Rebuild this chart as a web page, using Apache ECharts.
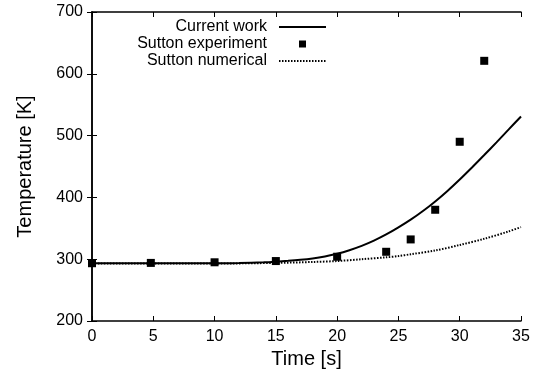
<!DOCTYPE html>
<html>
<head>
<meta charset="utf-8">
<script src="https://cdn.jsdelivr.net/npm/echarts@6/dist/echarts.min.js"></script>
<style>
  html, body { margin: 0; padding: 0; background: #fff; }
  #chart { width: 539px; height: 381px; }
</style>
</head>
<body>
<div id="chart"></div>
<script>
// Simulated temperature history (current work)
const workTime = [0, 5, 10, 12, 14, 15, 16, 17, 18, 19, 20, 21, 22, 23, 24, 25, 26, 27, 28, 29, 30, 31, 32, 33, 34, 35];
const workTemp = [293.5, 293.5, 293.5, 294, 295, 296, 297.3, 299, 301.3, 304.5, 308.8, 314.5, 321.5, 330, 340, 351.5, 364, 378, 393.5, 410.5, 429, 448.5, 468.5, 489, 510, 531];

// Sutton's measured temperatures
const expTime = [0, 4.8, 10, 15, 20, 24, 26, 28, 30, 32];
const expTemp = [293.5, 294, 295, 297, 304, 312, 332, 380, 490, 621];

// Sutton's numerical prediction
const numTime = [0, 5, 10, 15, 18, 20, 22, 24, 25, 26, 28, 30, 32, 34, 35];
const numTemp = [293, 293, 293, 294, 295.5, 297, 300, 303, 305, 308, 314, 323, 333, 345, 352];

const xTicks = { min: 0, max: 35, interval: 5 };
const yTicks = { min: 200, max: 700, interval: 100 };

const pairs = (xs, ys) => xs.map((x, i) => [x, ys[i]]);

const FONT = 'Liberation Sans, Arial, Helvetica, sans-serif';
const ink = '#000';

const chart = echarts.init(document.getElementById('chart'), null, { renderer: 'canvas' });

const baseAxis = {
  axisLine: { show: true, lineStyle: { color: ink, width: 1.5 } },
  axisTick: { show: true, inside: true, length: 5, lineStyle: { color: ink, width: 1 } },
  splitLine: { show: false }
};

chart.setOption({
  backgroundColor: '#fff',
  animation: false,
  grid: { left: 92, right: 18, top: 12, bottom: 60, containLabel: false },
  legend: {
    orient: 'vertical',
    align: 'right',
    right: 212,
    top: 19,
    padding: 0,
    itemGap: 1,
    itemWidth: 47,
    itemHeight: 7,
    symbolKeepAspect: true,
    textStyle: { fontFamily: FONT, fontSize: 16, color: ink, lineHeight: 16, padding: [0, 7, 0, 0] },
    data: [
      { name: 'Current work', itemStyle: { opacity: 0 } },
      { name: 'Sutton experiment', icon: 'path://M0,0L1,0L1,1L0,1Z', itemStyle: { color: ink, opacity: 1 } },
      { name: 'Sutton numerical', itemStyle: { opacity: 0 } }
    ]
  },
  xAxis: [
    Object.assign({}, baseAxis, {
      type: 'value', position: 'bottom',
      min: xTicks.min, max: xTicks.max, interval: xTicks.interval,
      name: 'Time [s]', nameLocation: 'middle', nameGap: 27,
      nameTextStyle: { fontFamily: FONT, fontSize: 20, color: ink },
      axisLabel: { fontFamily: FONT, fontSize: 16, color: ink, margin: 8 }
    }),
    Object.assign({}, baseAxis, {
      type: 'value', position: 'top',
      min: xTicks.min, max: xTicks.max, interval: xTicks.interval,
      axisLabel: { show: false }
    })
  ],
  yAxis: [
    Object.assign({}, baseAxis, {
      type: 'value', position: 'left',
      min: yTicks.min, max: yTicks.max, interval: yTicks.interval,
      name: 'Temperature [K]', nameLocation: 'middle', nameGap: 57,
      nameTextStyle: { fontFamily: FONT, fontSize: 20, color: ink },
      axisLabel: { fontFamily: FONT, fontSize: 16, color: ink, margin: 9 }
    }),
    Object.assign({}, baseAxis, {
      type: 'value', position: 'right',
      min: yTicks.min, max: yTicks.max, interval: yTicks.interval,
      axisLabel: { show: false }
    })
  ],
  series: [
    {
      name: 'Current work',
      type: 'line',
      data: pairs(workTime, workTemp),
      smooth: 0.3,
      symbol: 'none',
      lineStyle: { color: ink, width: 2 },
      itemStyle: { color: ink },
      z: 3
    },
    {
      name: 'Sutton experiment',
      type: 'scatter',
      data: pairs(expTime, expTemp),
      symbol: 'rect',
      symbolSize: 8,
      itemStyle: { color: ink, opacity: 1 },
      z: 4
    },
    {
      name: 'Sutton numerical',
      type: 'line',
      data: pairs(numTime, numTemp),
      smooth: 0.3,
      symbol: 'none',
      lineStyle: { color: ink, width: 2, type: [1.5, 1.5] },
      itemStyle: { color: ink },
      z: 2
    }
  ]
});
</script>
</body>
</html>
